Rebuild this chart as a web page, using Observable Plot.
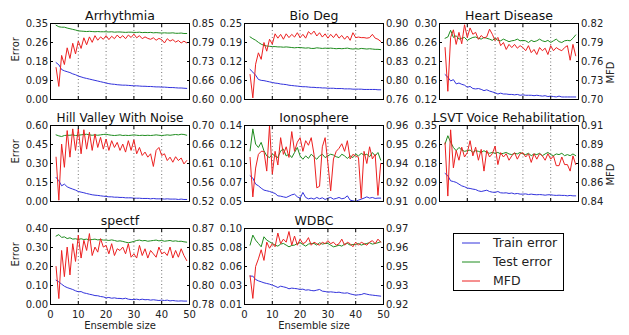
<!DOCTYPE html>
<html><head><meta charset="utf-8">
<script src="https://cdn.jsdelivr.net/npm/d3@7"></script>
<script src="https://cdn.jsdelivr.net/npm/@observablehq/plot@0.6"></script>
<style>
html,body{margin:0;padding:0;background:#fff;}
#chart{position:relative;width:629px;height:335px;overflow:hidden;background:#fff;font-family:"DejaVu Sans",sans-serif;}
#chart > svg{position:absolute;overflow:visible;}
</style></head><body><div id="chart"></div>
<script>
const ensembleSizes = [2,3,4,5,6,7,8,9,10,11,12,13,14,15,16,17,18,19,20,21,22,23,24,25,26,27,28,29,30,31,32,33,34,35,36,37,38,39,40,41,42,43,44,45,46,47,48,49];
const xTicks = [0,10,20,30,40,50];
const gridX = [10,20,30,40];
const seriesNames = ["Train error","Test error","MFD"];
const seriesColors = ["#3232dc","#1f8c1f","#ec2020"];

// Arrhythmia
const arrhythmiaTrain = [0.170,0.160,0.138,0.132,0.128,0.124,0.118,0.114,0.108,0.104,0.100,0.097,0.094,0.091,0.088,0.085,0.082,0.079,0.076,0.073,0.071,0.070,0.068,0.067,0.066,0.066,0.065,0.064,0.063,0.063,0.062,0.061,0.061,0.060,0.060,0.059,0.058,0.058,0.057,0.057,0.056,0.055,0.055,0.054,0.053,0.053,0.052,0.051];
const arrhythmiaTest = [0.342,0.335,0.333,0.333,0.329,0.326,0.323,0.320,0.316,0.315,0.314,0.313,0.314,0.313,0.312,0.313,0.312,0.312,0.312,0.311,0.312,0.310,0.311,0.311,0.310,0.309,0.310,0.310,0.309,0.309,0.310,0.308,0.309,0.308,0.309,0.307,0.308,0.307,0.306,0.307,0.306,0.306,0.307,0.305,0.305,0.306,0.304,0.304];
const arrhythmiaMFD = [0.705,0.643,0.745,0.715,0.770,0.735,0.785,0.750,0.792,0.768,0.803,0.780,0.806,0.788,0.810,0.795,0.806,0.798,0.810,0.797,0.808,0.800,0.812,0.802,0.810,0.800,0.812,0.804,0.815,0.803,0.810,0.800,0.806,0.801,0.798,0.803,0.795,0.801,0.797,0.786,0.800,0.792,0.797,0.789,0.794,0.786,0.792,0.786];
const arrhythmiaErrTicks = ["0.00","0.09","0.18","0.26","0.35"];
const arrhythmiaMFDTicks = ["0.60","0.66","0.73","0.79","0.85"];

// Bio Deg
const bioDegTrain = [0.099,0.090,0.080,0.066,0.063,0.062,0.060,0.058,0.056,0.054,0.053,0.051,0.050,0.049,0.047,0.046,0.045,0.044,0.043,0.042,0.042,0.041,0.040,0.040,0.039,0.039,0.038,0.038,0.037,0.037,0.037,0.036,0.036,0.036,0.035,0.035,0.035,0.034,0.034,0.034,0.034,0.033,0.033,0.033,0.033,0.033,0.032,0.032];
const bioDegTest = [0.206,0.200,0.195,0.188,0.182,0.178,0.176,0.175,0.174,0.174,0.173,0.173,0.172,0.173,0.172,0.171,0.170,0.171,0.171,0.170,0.169,0.170,0.168,0.168,0.170,0.169,0.168,0.169,0.168,0.169,0.168,0.167,0.168,0.167,0.168,0.169,0.167,0.166,0.167,0.166,0.168,0.167,0.166,0.167,0.166,0.165,0.165,0.164];
const bioDegMFD = [0.806,0.763,0.825,0.846,0.834,0.865,0.849,0.871,0.862,0.881,0.873,0.880,0.871,0.881,0.874,0.880,0.875,0.883,0.874,0.880,0.873,0.885,0.880,0.886,0.877,0.883,0.875,0.881,0.873,0.880,0.874,0.881,0.873,0.878,0.871,0.877,0.869,0.883,0.874,0.875,0.874,0.874,0.873,0.874,0.880,0.873,0.871,0.867];
const bioDegErrTicks = ["0.00","0.06","0.12","0.19","0.25"];
const bioDegMFDTicks = ["0.76","0.80","0.83","0.86","0.90"];

// Heart Disease
const heartTrain = [0.179,0.173,0.164,0.167,0.157,0.159,0.156,0.154,0.149,0.151,0.146,0.145,0.146,0.144,0.141,0.143,0.140,0.138,0.136,0.133,0.135,0.133,0.133,0.132,0.132,0.131,0.132,0.130,0.131,0.130,0.130,0.130,0.129,0.130,0.129,0.128,0.129,0.127,0.128,0.127,0.126,0.128,0.126,0.126,0.126,0.126,0.126,0.126];
const heartTest = [0.265,0.268,0.284,0.267,0.271,0.263,0.265,0.267,0.260,0.264,0.267,0.268,0.265,0.263,0.267,0.265,0.263,0.260,0.265,0.260,0.259,0.263,0.260,0.257,0.259,0.260,0.263,0.259,0.260,0.259,0.255,0.260,0.257,0.259,0.263,0.259,0.257,0.260,0.255,0.259,0.263,0.257,0.255,0.259,0.260,0.259,0.265,0.273];
const heartMFD = [0.782,0.713,0.798,0.810,0.787,0.806,0.788,0.818,0.798,0.813,0.803,0.806,0.795,0.801,0.797,0.799,0.811,0.803,0.793,0.798,0.785,0.790,0.779,0.787,0.782,0.787,0.781,0.785,0.782,0.777,0.785,0.774,0.779,0.771,0.782,0.777,0.781,0.771,0.785,0.777,0.782,0.779,0.777,0.782,0.785,0.762,0.787,0.769];
const heartErrTicks = ["0.12","0.16","0.21","0.26","0.30"];
const heartMFDTicks = ["0.70","0.73","0.76","0.79","0.82"];

// Hill Valley With Noise
const hillTrain = [0.190,0.164,0.124,0.137,0.116,0.106,0.098,0.090,0.079,0.074,0.069,0.063,0.058,0.053,0.050,0.048,0.045,0.042,0.040,0.037,0.037,0.034,0.034,0.032,0.032,0.029,0.029,0.029,0.026,0.026,0.026,0.024,0.024,0.024,0.021,0.024,0.021,0.021,0.021,0.019,0.021,0.019,0.019,0.019,0.016,0.019,0.016,0.016];
const hillTest = [0.526,0.518,0.513,0.521,0.523,0.523,0.526,0.521,0.523,0.526,0.529,0.531,0.526,0.523,0.526,0.523,0.526,0.529,0.531,0.526,0.523,0.521,0.523,0.526,0.521,0.523,0.521,0.523,0.526,0.523,0.521,0.523,0.521,0.523,0.521,0.523,0.526,0.523,0.521,0.523,0.526,0.523,0.526,0.529,0.526,0.531,0.529,0.523];
const hillMFD = [0.625,0.523,0.656,0.601,0.688,0.625,0.692,0.641,0.692,0.633,0.690,0.644,0.684,0.641,0.680,0.648,0.672,0.644,0.668,0.641,0.664,0.648,0.660,0.641,0.656,0.637,0.664,0.641,0.666,0.633,0.648,0.629,0.637,0.625,0.633,0.603,0.641,0.648,0.629,0.633,0.617,0.625,0.613,0.626,0.617,0.623,0.609,0.617];
const hillErrTicks = ["0.00","0.15","0.30","0.45","0.60"];
const hillMFDTicks = ["0.52","0.56","0.61","0.66","0.70"];

// Ionosphere
const ionoTrain = [0.0805,0.0777,0.0706,0.0686,0.0658,0.0635,0.0627,0.0619,0.0607,0.0595,0.0567,0.0563,0.0555,0.0548,0.0563,0.0579,0.0587,0.0555,0.0540,0.0607,0.0548,0.0532,0.0540,0.0528,0.0548,0.0532,0.0544,0.0524,0.0540,0.0548,0.0528,0.0536,0.0548,0.0532,0.0540,0.0567,0.0516,0.0508,0.0500,0.0516,0.0528,0.0540,0.0555,0.0540,0.0548,0.0536,0.0540,0.0540];
const ionoTest = [0.110,0.136,0.118,0.114,0.120,0.110,0.104,0.102,0.106,0.104,0.102,0.110,0.112,0.104,0.106,0.102,0.108,0.114,0.104,0.100,0.104,0.101,0.106,0.103,0.100,0.104,0.106,0.102,0.104,0.106,0.105,0.103,0.102,0.106,0.104,0.101,0.104,0.102,0.106,0.104,0.107,0.105,0.106,0.103,0.108,0.104,0.108,0.099];
const ionoMFD = [0.939,0.913,0.932,0.941,0.943,0.943,0.930,0.960,0.928,0.943,0.934,0.952,0.941,0.946,0.939,0.956,0.943,0.949,0.952,0.943,0.950,0.947,0.952,0.941,0.919,0.920,0.946,0.952,0.935,0.917,0.938,0.943,0.945,0.948,0.943,0.950,0.938,0.941,0.940,0.939,0.912,0.943,0.935,0.946,0.938,0.941,0.914,0.935];
const ionoErrTicks = ["0.05","0.07","0.10","0.12","0.14"];
const ionoMFDTicks = ["0.91","0.92","0.94","0.95","0.96"];

// LSVT Voice Rehabilitation
const lsvtTrain = [0.129,0.119,0.095,0.092,0.088,0.080,0.072,0.068,0.062,0.060,0.057,0.055,0.049,0.046,0.049,0.052,0.046,0.043,0.042,0.046,0.040,0.039,0.040,0.037,0.039,0.035,0.037,0.034,0.034,0.035,0.032,0.034,0.032,0.031,0.032,0.031,0.029,0.031,0.031,0.029,0.028,0.029,0.028,0.028,0.026,0.028,0.026,0.026];
const lsvtTest = [0.265,0.303,0.273,0.249,0.234,0.249,0.237,0.231,0.234,0.237,0.226,0.234,0.231,0.226,0.234,0.226,0.222,0.226,0.222,0.226,0.219,0.222,0.226,0.219,0.216,0.222,0.219,0.226,0.219,0.216,0.222,0.211,0.219,0.216,0.222,0.211,0.219,0.226,0.216,0.211,0.219,0.216,0.222,0.211,0.216,0.211,0.219,0.211];
const lsvtMFD = [0.894,0.845,0.906,0.871,0.887,0.878,0.890,0.881,0.885,0.896,0.882,0.890,0.878,0.888,0.868,0.887,0.881,0.884,0.891,0.874,0.885,0.881,0.884,0.878,0.882,0.885,0.879,0.884,0.885,0.881,0.884,0.876,0.884,0.879,0.884,0.882,0.878,0.884,0.879,0.882,0.873,0.873,0.881,0.874,0.874,0.868,0.882,0.874];
const lsvtErrTicks = ["0.00","0.09","0.18","0.26","0.35"];
const lsvtMFDTicks = ["0.84","0.86","0.88","0.89","0.91"];

// spectf
const spectfTrain = [0.128,0.119,0.107,0.096,0.089,0.084,0.079,0.072,0.067,0.068,0.061,0.058,0.054,0.051,0.047,0.046,0.042,0.040,0.035,0.037,0.033,0.035,0.032,0.032,0.030,0.033,0.028,0.026,0.026,0.028,0.025,0.028,0.025,0.026,0.023,0.025,0.023,0.021,0.023,0.021,0.023,0.019,0.021,0.019,0.018,0.019,0.018,0.018];
const spectfTest = [0.360,0.368,0.353,0.356,0.347,0.351,0.344,0.346,0.342,0.346,0.342,0.344,0.340,0.342,0.344,0.340,0.342,0.339,0.339,0.337,0.340,0.337,0.333,0.335,0.332,0.328,0.325,0.328,0.332,0.337,0.339,0.335,0.337,0.333,0.335,0.337,0.339,0.335,0.337,0.333,0.335,0.337,0.333,0.335,0.332,0.333,0.330,0.328];
const spectfMFD = [0.825,0.787,0.844,0.813,0.848,0.815,0.852,0.831,0.862,0.835,0.856,0.844,0.864,0.838,0.848,0.842,0.858,0.848,0.850,0.840,0.852,0.838,0.846,0.844,0.848,0.840,0.852,0.836,0.840,0.835,0.850,0.838,0.846,0.835,0.844,0.840,0.836,0.848,0.840,0.842,0.838,0.848,0.835,0.844,0.836,0.846,0.838,0.832];
const spectfErrTicks = ["0.00","0.10","0.20","0.30","0.40"];
const spectfMFDTicks = ["0.78","0.80","0.82","0.85","0.87"];

// WDBC
const wdbcTrain = [0.0436,0.0436,0.0396,0.0380,0.0369,0.0357,0.0349,0.0341,0.0329,0.0317,0.0301,0.0317,0.0309,0.0301,0.0286,0.0294,0.0290,0.0286,0.0278,0.0282,0.0270,0.0274,0.0266,0.0262,0.0270,0.0278,0.0258,0.0254,0.0246,0.0250,0.0246,0.0242,0.0246,0.0238,0.0234,0.0238,0.0226,0.0218,0.0211,0.0215,0.0218,0.0230,0.0222,0.0215,0.0211,0.0207,0.0203,0.0199];
const wdbcTest = [0.0803,0.0922,0.0862,0.0823,0.0783,0.0902,0.0862,0.0843,0.0823,0.0803,0.0791,0.0815,0.0823,0.0803,0.0783,0.0799,0.0803,0.0823,0.0831,0.0811,0.0791,0.0815,0.0823,0.0823,0.0803,0.0831,0.0815,0.0823,0.0823,0.0803,0.0783,0.0791,0.0803,0.0791,0.0815,0.0823,0.0803,0.0811,0.0811,0.0823,0.0803,0.0815,0.0823,0.0831,0.0815,0.0823,0.0831,0.0843];
const wdbcMFD = [0.939,0.924,0.945,0.950,0.956,0.949,0.961,0.957,0.960,0.958,0.967,0.960,0.963,0.961,0.968,0.959,0.965,0.959,0.963,0.960,0.961,0.964,0.959,0.961,0.960,0.959,0.961,0.960,0.962,0.960,0.961,0.959,0.960,0.963,0.959,0.961,0.960,0.958,0.961,0.959,0.961,0.960,0.959,0.961,0.962,0.960,0.963,0.961];
const wdbcErrTicks = ["0.01","0.03","0.06","0.08","0.10"];
const wdbcMFDTicks = ["0.92","0.93","0.95","0.96","0.97"];

const panels = [
  {name:"Arrhythmia", train:arrhythmiaTrain, test:arrhythmiaTest, mfd:arrhythmiaMFD, errTicks:arrhythmiaErrTicks, mfdTicks:arrhythmiaMFDTicks, col:0, row:0},
  {name:"Bio Deg", train:bioDegTrain, test:bioDegTest, mfd:bioDegMFD, errTicks:bioDegErrTicks, mfdTicks:bioDegMFDTicks, col:1, row:0},
  {name:"Heart Disease", train:heartTrain, test:heartTest, mfd:heartMFD, errTicks:heartErrTicks, mfdTicks:heartMFDTicks, col:2, row:0},
  {name:"Hill Valley With Noise", train:hillTrain, test:hillTest, mfd:hillMFD, errTicks:hillErrTicks, mfdTicks:hillMFDTicks, col:0, row:1},
  {name:"Ionosphere", train:ionoTrain, test:ionoTest, mfd:ionoMFD, errTicks:ionoErrTicks, mfdTicks:ionoMFDTicks, col:1, row:1},
  {name:"LSVT Voice Rehabilitation", train:lsvtTrain, test:lsvtTest, mfd:lsvtMFD, errTicks:lsvtErrTicks, mfdTicks:lsvtMFDTicks, col:2, row:1},
  {name:"spectf", train:spectfTrain, test:spectfTest, mfd:spectfMFD, errTicks:spectfErrTicks, mfdTicks:spectfMFDTicks, col:0, row:2},
  {name:"WDBC", train:wdbcTrain, test:wdbcTest, mfd:wdbcMFD, errTicks:wdbcErrTicks, mfdTicks:wdbcMFDTicks, col:1, row:2}
];

// layout
const colX = [50, 244, 439];
const rowY = [23, 125, 228];
const frameW = 139, frameH = 76;
const mL = 50, mR = 50, mT = 28, mB = 34;
const chart = document.getElementById("chart");

function makePanel(p) {
  const L0 = +p.errTicks[0], L1 = +p.errTicks[4];
  const R0 = +p.mfdTicks[0], R1 = +p.mfdTicks[4];
  const pos = p.errTicks.map((_, i) => L0 + (L1 - L0) * i / 4);
  const leftMap = new Map(pos.map((v, i) => [v, p.errTicks[i]]));
  const rightMap = new Map(pos.map((v, i) => [v, p.mfdTicks[i]]));
  const toLeft = v => L0 + (v - R0) / (R1 - R0) * (L1 - L0);
  const showX = p.row === 2;
  const titleSize = p.name.length > 20 ? 12 : 12.5;
  const marks = [
    Plot.ruleX(gridX, {stroke:"#000", strokeWidth:0.7, strokeDasharray:"1,2.5", strokeOpacity:0.8}),
    Plot.line(p.train, {x:(d,i)=>ensembleSizes[i], y:d=>d, stroke:seriesColors[0], strokeWidth:1, clip:true}),
    Plot.line(p.test, {x:(d,i)=>ensembleSizes[i], y:d=>d, stroke:seriesColors[1], strokeWidth:1, clip:true}),
    Plot.line(p.mfd, {x:(d,i)=>ensembleSizes[i], y:d=>toLeft(d), stroke:seriesColors[2], strokeWidth:1, clip:true}),
    Plot.frame({stroke:"#000", strokeWidth:1}),
    Plot.axisY(pos, {anchor:"left", tickSize:-3, tickPadding:5.5, tickFormat:d=>leftMap.get(d), label:null, fill:"#222", fontSize:10}),
    Plot.axisY(pos, {anchor:"right", tickSize:-3, tickPadding:5.5, tickFormat:d=>rightMap.get(d), label:null, fill:"#222", fontSize:10}),
    Plot.axisX(xTicks, {anchor:"bottom", tickSize:-3, tickPadding:9, tickFormat: showX ? d=>String(d) : ()=>"", label:null, fill:"#222", fontSize:10}),
    Plot.axisX(xTicks, {anchor:"top", tickSize:-3, tickFormat:()=>"", label:null}),
    Plot.text([p.name], {text:d=>d, frameAnchor:"top", dy:-4, lineAnchor:"bottom", fontSize:titleSize, fill:"#111"})
  ];
  if (p.col === 0) marks.push(Plot.text(["Error"], {text:d=>d, frameAnchor:"left", dx:-35, rotate:-90, fontSize:10, fill:"#222"}));
  if (p.col === 2) marks.push(Plot.text(["MFD"], {text:d=>d, frameAnchor:"right", dx:32, rotate:-90, fontSize:10, fill:"#222"}));
  if (showX) marks.push(Plot.text(["Ensemble size"], {text:d=>d, frameAnchor:"bottom", dy:24, fontSize:10, fill:"#222"}));
  const svg = Plot.plot({
    width: frameW + mL + mR, height: frameH + mT + mB,
    marginLeft: mL, marginRight: mR, marginTop: mT, marginBottom: mB,
    x: {domain:[0,50], axis:null},
    y: {domain:[L0, L1], axis:null},
    style: {fontFamily:"DejaVu Sans", fontSize:"10px", background:"transparent", overflow:"visible"},
    marks
  });
  svg.style.left = (colX[p.col] - mL) + "px";
  svg.style.top = (rowY[p.row] - mT) + "px";
  chart.appendChild(svg);
}
panels.forEach(makePanel);

// legend
const leg = d3.select(chart).append("svg")
  .attr("width", 130).attr("height", 70)
  .style("left", "445px").style("top", "226px");
leg.append("rect").attr("x", 8.5).attr("y", 7.5).attr("width", 110).attr("height", 57)
  .attr("fill", "#fff").attr("stroke", "#000").attr("stroke-width", 1);
seriesNames.forEach((name, i) => {
  const y = 17 + i * 19;
  leg.append("line").attr("x1", 17).attr("x2", 35).attr("y1", y).attr("y2", y)
    .attr("stroke", seriesColors[i]).attr("stroke-width", 1);
  leg.append("text").attr("x", 48).attr("y", y).attr("dy", "0.35em")
    .attr("font-family", "DejaVu Sans").attr("font-size", 12.5).attr("fill", "#222").text(name);
});
</script></body></html>
